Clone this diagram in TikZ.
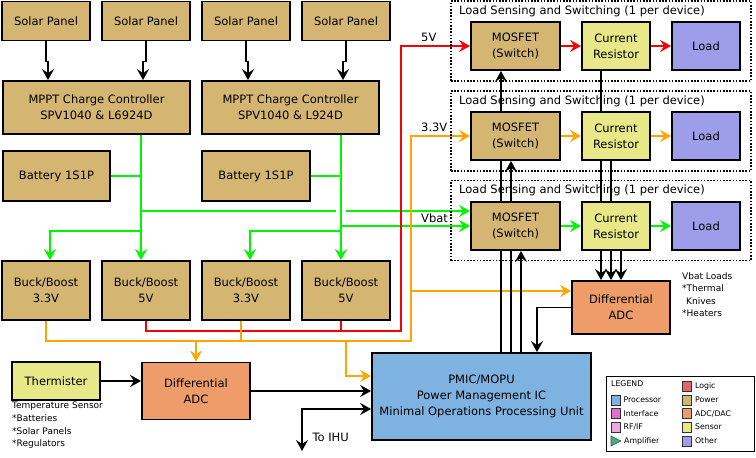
\documentclass[tikz,border=0pt]{standalone}
\usepackage{fontspec}
\setmainfont{DejaVu Sans}
\usetikzlibrary{arrows.meta,positioning,backgrounds}

\definecolor{powerc}{RGB}{212,182,114}
\definecolor{sensorc}{RGB}{232,232,136}
\definecolor{otherc}{RGB}{157,157,234}
\definecolor{adcc}{RGB}{238,157,106}
\definecolor{procc}{RGB}{126,178,224}
\definecolor{logicc}{RGB}{222,102,102}
\definecolor{ifacec}{RGB}{224,112,208}
\definecolor{rfc}{RGB}{234,170,226}
\definecolor{ampc}{RGB}{64,176,128}
\definecolor{wgreen}{RGB}{0,245,0}
\definecolor{wred}{RGB}{250,0,0}
\definecolor{worange}{RGB}{255,165,0}

\begin{document}
\begin{tikzpicture}[x=1pt, y=-1pt,
  every node/.style={font=\fontsize{11.5}{16}\selectfont, align=center},
  blk/.style={draw, line width=1.8pt, inner sep=0pt},
  power/.style={blk, fill=powerc},
  sensor/.style={blk, fill=sensorc},
  adc/.style={blk, fill=adcc},
  other/.style={blk, fill=otherc},
  proc/.style={blk, fill=procc},
  panel/.style={power, minimum width=88pt, minimum height=39pt},
  buck/.style={power, minimum width=88pt, minimum height=59pt},
  mosfet/.style={power, minimum width=89pt, minimum height=48pt},
  sense/.style={sensor, minimum width=68pt, minimum height=48pt},
  load/.style={other, minimum width=68pt, minimum height=48pt},
  frame/.style={draw, line width=1.5pt, dash pattern=on 1.6pt off 1.6pt,
    minimum width=300pt, minimum height=80pt, inner sep=0pt},
  note/.style={font=\fontsize{9}{12.6}\selectfont, align=left, inner sep=0pt},
  legtxt/.style={font=\fontsize{7.8}{9}\selectfont, inner sep=0pt},
  swatch/.style={draw=black!80, line width=0.8pt, minimum width=9pt,
    minimum height=10pt, inner sep=0pt},
  tip/.style={-{Stealth[length=11pt, width=12pt, inset=4pt]}},
  wire/.style={line width=1.8pt},
  cwire/.style={line width=1.5pt},
  arr/.style={wire, tip},
  gwire/.style={cwire, wgreen},
  garr/.style={cwire, tip, wgreen},
  rwire/.style={cwire, wred},
  rarr/.style={cwire, tip, wred},
  owire/.style={cwire, worange},
  oarr/.style={cwire, tip, worange}]

\useasboundingbox (0,0) rectangle (756,458);

% solar panels and charge controllers
\node[panel] (sp1) at (46,21) {Solar Panel};
\node[panel] (sp2) at (146,21) {Solar Panel};
\node[panel] (sp3) at (246,21) {Solar Panel};
\node[panel] (sp4) at (346,21) {Solar Panel};
\node[power, minimum width=187pt, minimum height=53pt] (mppt1) at (96.5,107.5)
  {MPPT Charge Controller\\SPV1040 \& L6924D};
\node[power, minimum width=177pt, minimum height=53pt] (mppt2) at (290.5,107.5)
  {MPPT Charge Controller\\SPV1040 \& L924D};
\node[power, minimum width=107pt, minimum height=50pt] (bat1) at (56.5,176) {Battery 1S1P};
\node[power, minimum width=108pt, minimum height=50pt] (bat2) at (256,176) {Battery 1S1P};

% regulators
\node[buck] (bb1) at (46,290.5) {Buck/Boost\\3.3V};
\node[buck] (bb2) at (146,290.5) {Buck/Boost\\5V};
\node[buck] (bb3) at (246,290.5) {Buck/Boost\\3.3V};
\node[buck] (bb4) at (346,290.5) {Buck/Boost\\5V};

% temperature sensing
\node[sensor, minimum width=88pt, minimum height=38pt] (therm) at (56,381) {Thermister};
\node[note, anchor=north west] (thnote) at (12,402)
  {Temperature Sensor\\*Batteries\\*Solar Panels\\*Regulators};
\node[adc, minimum width=108pt, minimum height=57pt] (adc1) at (196,391) {Differential\\ADC};

% PMIC
\node[proc, minimum width=219pt, minimum height=87pt] (pmic) at (481.5,396.5)
  {PMIC/MOPU\\Power Management IC\\Minimal Operations Processing Unit};
\node[anchor=west] (ihu) at (309,437) {To IHU};
\coordinate (ihuend) at (302,451);

% load switches
\node[frame] (sw1) at (601,41) {};
\node[frame] (sw2) at (601,131) {};
\node[frame] (sw3) at (601,220.5) {};
\node[anchor=west, inner sep=0pt] (sw1t) at (459,11) {Load Sensing and Switching (1 per device)};
\node[anchor=west, inner sep=0pt] (sw2t) at (459,101) {Load Sensing and Switching (1 per device)};
\node[anchor=west, inner sep=0pt] (sw3t) at (459,190.5) {Load Sensing and Switching (1 per device)};

\node[mosfet] (mos1) at (515.5,46) {MOSFET\\(Switch)};
\node[mosfet] (mos2) at (515.5,136) {MOSFET\\(Switch)};
\node[mosfet] (mos3) at (515.5,226) {MOSFET\\(Switch)};
\node[sense] (cr1) at (616,46) {Current\\Resistor};
\node[sense] (cr2) at (616,136) {Current\\Resistor};
\node[sense] (cr3) at (616,226) {Current\\Resistor};
\node[load] (ld1) at (706,46) {Load};
\node[load] (ld2) at (706,136) {Load};
\node[load] (ld3) at (706,226) {Load};

\node[adc, minimum width=98pt, minimum height=53pt] (adc2) at (621,307.5) {Differential\\ADC};
\node[note, anchor=north west] (vbnote) at (682,272)
  {Vbat Loads\\*Thermal\\\hspace{4pt}Knives\\*Heaters};

\node[anchor=west, inner sep=0pt] (l5v) at (421,37) {5V};
\node[anchor=west, inner sep=0pt] (l33v) at (421,127) {3.3V};
\node[anchor=west, inner sep=0pt] (lvbat) at (421,218) {Vbat};

% legend
\node[draw, line width=1.5pt, minimum width=148pt, minimum height=75pt] (legend) at (680.5,414) {};
\node[legtxt, anchor=west] (legt) at (611,384) {LEGEND};
\foreach \name/\col/\y in {Processor/procc/400, Interface/ifacec/413.5, {RF/IF}/rfc/427}
  \node[swatch, fill=\col, label={[legtxt, label distance=3pt]right:\name}] at (615.5,\y) {};
\foreach \name/\col/\y in {Logic/logicc/386, Power/powerc/400, {ADC/DAC}/adcc/413.5,
    Sensor/sensorc/427, Other/otherc/441}
  \node[swatch, fill=\col, label={[legtxt, label distance=3pt]right:\name}] at (687,\y) {};
\draw[fill=ampc, draw=black!70, line width=0.6pt] (611,436) -- (621,441) -- (611,446) -- cycle;
\node[legtxt, anchor=west] (lamp) at (624,441) {Amplifier};

\begin{pgfonlayer}{background}
% panels to controllers
\draw[arr] (sp1.south) -- ++(0,20) -| ([xshift=-48.5pt]mppt1.north);
\draw[arr] (sp2.south) -- ++(0,20) -| ([xshift=46.5pt]mppt1.north);
\draw[arr] (sp3.south) -- ++(0,20) -| ([xshift=-42.5pt]mppt2.north);
\draw[arr] (sp4.south) -- ++(0,20) -| ([xshift=52.5pt]mppt2.north);

% battery bus
\coordinate (tapA) at (141,231);
\coordinate (tapB) at (341,231);
\coordinate (vbA) at (141,211);
\coordinate (vbB) at (341,226);
\coordinate (jmpL) at (336,211);
\coordinate (jmpR) at (346,211);
\draw[garr] ([xshift=44.5pt]mppt1.south) -- ([xshift=-5pt]bb2.north);
\draw[garr] ([xshift=50.5pt]mppt2.south) -- ([xshift=-5pt]bb4.north);
\draw[gwire] (bat1.east) -- (bat1.east -| tapA);
\draw[gwire] (bat2.east) -- (bat2.east -| tapB);
\draw[garr] (tapA) -| ([xshift=4pt]bb1.north);
\draw[garr] (tapB) -| ([xshift=4pt]bb3.north);
\draw[gwire] (vbA) -- (jmpL);
\draw[garr] (jmpR) -- (jmpR -| mos3.west);
\draw[garr] (vbB) -- (vbB -| mos3.west);

% 5V and 3.3V rails
\coordinate (rV) at (401,331);
\coordinate (oV) at (411,341);
\coordinate (oP) at (346,341);
\coordinate (oQ) at (411,291);
\draw[rarr] (bb2.south) |- (rV) |- (mos1.west);
\draw[rwire] ([xshift=-5pt]bb4.south) -- ++(0,10);
\draw[oarr] (bb1.south) |- (oV) |- (mos2.west);
\draw[owire] ([xshift=-5pt]bb3.south) -- ++(0,20);
\draw[oarr] (adc1.north |- oV) -- (adc1.north);
\draw[oarr] (oP) |- ([yshift=20.5pt]pmic.west);
\draw[oarr] (oQ) -- (oQ -| adc2.west);

% switch chains
\draw[rarr] (mos1.east) -- (cr1.west);
\draw[rarr] (cr1.east) -- (ld1.west);
\draw[oarr] (mos2.east) -- (cr2.west);
\draw[oarr] (cr2.east) -- (ld2.west);
\draw[garr] (mos3.east) -- (cr3.west);
\draw[garr] (cr3.east) -- (ld3.west);

% control and sensing
\draw[arr] ([xshift=19.5pt]pmic.north) -- ([xshift=19.5pt]pmic.north |- mos1.south);
\draw[arr] ([xshift=29.5pt]pmic.north) -- ([xshift=29.5pt]pmic.north |- mos2.south);
\draw[arr] ([xshift=39.5pt]pmic.north) -- ([xshift=39.5pt]pmic.north |- mos3.south);
\draw[arr] ([xshift=-15pt]cr1.south) -- ([xshift=-15pt]cr1.south |- adc2.north);
\draw[arr] ([xshift=-5pt]cr2.south) -- ([xshift=-5pt]cr2.south |- adc2.north);
\draw[arr] ([xshift=5pt]cr3.south) -- ([xshift=5pt]cr3.south |- adc2.north);
\draw[arr] (adc2.west) -| ([xshift=55.5pt]pmic.north);
\draw[arr] (therm.east) -- (therm.east -| adc1.west);
\draw[arr] (adc1.east) -- (adc1.east -| pmic.west);
\draw[wire, {Stealth[length=11pt, width=12pt, inset=4pt]}-{Stealth[length=11pt, width=12pt, inset=4pt]}]
  (ihuend) |- ([yshift=-12.5pt]pmic.west);
\end{pgfonlayer}
\end{tikzpicture}
\end{document}
